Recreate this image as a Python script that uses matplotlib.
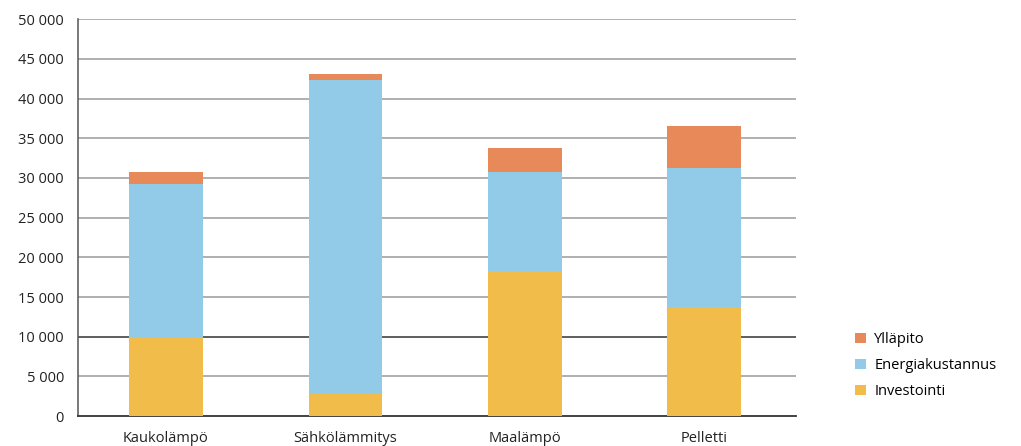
import matplotlib.pyplot as plt
import numpy as np

# Heating cost comparison (euros)
categories = ['Kaukolämpö', 'Sähkölämmitys', 'Maalämpö', 'Pelletti']
investointi = [10000, 2800, 18250, 13800]
energiakustannus = [19300, 39600, 12550, 17500]
yllapito = [1450, 650, 2950, 5200]

yticks = list(range(0, 50001, 5000))
ytick_labels = ['0' if v == 0 else f'{v // 1000} 000' for v in yticks]

plt.rcParams['font.family'] = ['Open Sans', 'DejaVu Sans']

fig = plt.figure(figsize=(10.21, 4.46), dpi=100)
ax = fig.add_axes([0.0764, 0.067, 0.703, 0.890])

x = np.arange(len(categories))
width = 0.41
inv = np.array(investointi)
ene = np.array(energiakustannus)
yll = np.array(yllapito)

ax.bar(x, inv, width, color='#F2BC4A', label='Investointi', zorder=3)
ax.bar(x, ene, width, bottom=inv, color='#92CBE8', label='Energiakustannus', zorder=3)
ax.bar(x, yll, width, bottom=inv + ene, color='#E8895A', label='Ylläpito', zorder=3)

# gridlines
for v in yticks[1:]:
    c = '#333333' if v == 10000 else '#9a9a9a'
    ax.axhline(v, color=c, linewidth=1.1, zorder=1)

ax.set_xlim(-0.49, 3.51)
ax.set_ylim(0, 50000)
ax.set_yticks(yticks)
ax.set_yticklabels(ytick_labels, fontsize=10.5, color='#222222')
ax.set_xticks(x)
ax.set_xticklabels(categories, fontsize=10.5, color='#222222')
ax.tick_params(axis='x', length=0, pad=11)
ax.tick_params(axis='y', length=0, pad=10)

for s in ['top', 'right']:
    ax.spines[s].set_visible(False)
ax.spines['left'].set_color('#555555')
ax.spines['bottom'].set_color('#333333')
ax.spines['left'].set_linewidth(1.1)
ax.spines['bottom'].set_linewidth(1.3)

handles, labels = ax.get_legend_handles_labels()
leg = fig.legend(handles[::-1], labels[::-1], loc='upper left',
                 bbox_to_anchor=(0.825, 0.285), frameon=False,
                 fontsize=10.5, handlelength=0.7, handleheight=0.7,
                 handletextpad=0.6, labelspacing=0.75)

fig.savefig('out.png', dpi=100)
